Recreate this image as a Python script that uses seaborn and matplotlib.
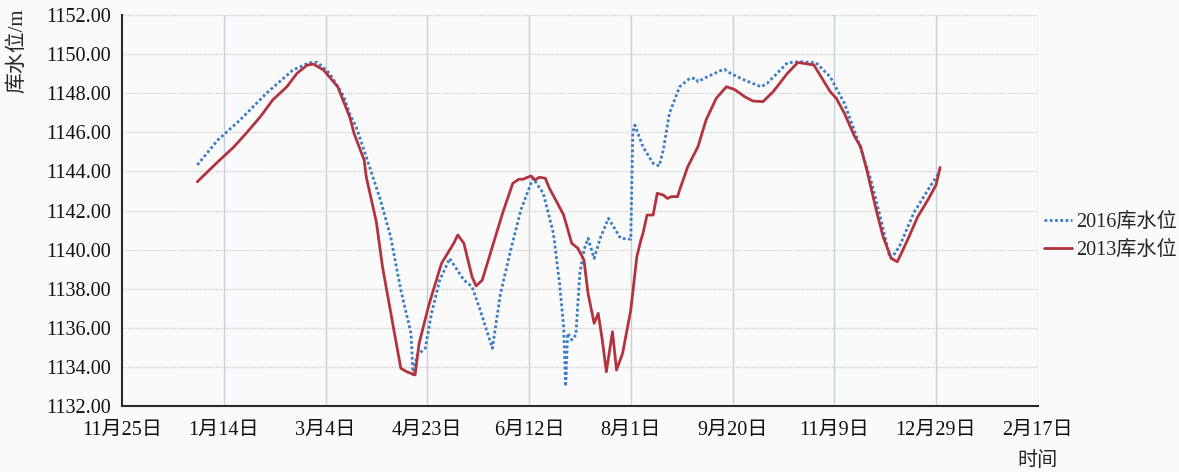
import matplotlib
matplotlib.use("Agg")
import matplotlib.pyplot as plt
import numpy as np
import pandas as pd
import seaborn as sns

# Reservoir water level (m) by day of year
doy_2016 = [1, 11, 22, 35, 48, 56, 60, 66, 73, 76, 79, 84, 91, 96, 101, 106, 107,
            109, 113, 116, 120, 125, 132, 136, 140, 146, 150, 155, 160, 165, 166,
            171, 176, 179, 181, 182, 183, 185, 187, 189, 191, 193, 196, 199, 203,
            209, 214, 215, 216, 220, 225, 228, 230, 233, 238, 243, 246, 247, 251,
            258, 260, 263, 269, 278, 281, 291, 297, 305, 312, 319, 325, 332, 337,
            341, 342, 346, 353, 360, 365]
level_2016 = [1144.33, 1145.60, 1146.63, 1148.00, 1149.19, 1149.56, 1149.58, 1149.02,
              1147.82, 1146.90, 1146.29, 1144.75, 1142.54, 1140.66, 1137.93, 1135.72,
              1133.60, 1134.60, 1134.95, 1136.70, 1138.40, 1139.55, 1138.44, 1138.10,
              1136.91, 1134.95, 1137.76, 1139.98, 1142.03, 1143.40, 1143.65, 1142.88,
              1140.83, 1138.28, 1136.06, 1133.00, 1135.72, 1135.38, 1135.63, 1138.79,
              1139.98, 1140.58, 1139.55, 1140.58, 1141.60, 1140.58, 1140.53, 1146.00,
              1146.37, 1145.26, 1144.41, 1144.28, 1145.10, 1146.97, 1148.33, 1148.76,
              1148.76, 1148.59, 1148.81, 1149.15, 1149.22, 1149.02, 1148.71, 1148.33,
              1148.50, 1149.56, 1149.61, 1149.56, 1148.84, 1147.48, 1145.78, 1143.56,
              1141.51, 1139.72, 1139.55, 1140.15, 1141.86, 1143.05, 1143.85]

doy_2013 = [1, 6, 12, 19, 25, 32, 38, 45, 50, 55, 58, 63, 70, 76, 78, 83, 84, 89, 92,
            97, 101, 104, 108, 110, 115, 121, 127, 129, 132, 136, 138, 141, 146, 151,
            156, 159, 161, 165, 167, 169, 172, 174, 178, 181, 185, 188, 191, 193, 196,
            198, 200, 202, 205, 207, 210, 214, 217, 219, 220, 222, 225, 227, 230, 232,
            234, 237, 238, 242, 247, 251, 256, 261, 265, 270, 274, 279, 284, 291, 296,
            297, 304, 307, 312, 315, 319, 324, 327, 330, 335, 338, 342, 345, 350, 355,
            360, 364, 366]
level_2013 = [1143.47, 1143.98, 1144.58, 1145.26, 1145.95, 1146.80, 1147.65, 1148.33,
              1149.02, 1149.44, 1149.49, 1149.19, 1148.33, 1146.75, 1145.95, 1144.58,
              1143.73, 1141.40, 1139.12, 1136.23, 1133.93, 1133.75, 1133.59, 1135.21,
              1137.25, 1139.30, 1140.32, 1140.75, 1140.32, 1138.61, 1138.14, 1138.44,
              1140.15, 1141.86, 1143.39, 1143.60, 1143.60, 1143.77, 1143.56, 1143.70,
              1143.65, 1143.14, 1142.37, 1141.77, 1140.32, 1140.07, 1139.47, 1137.76,
              1136.23, 1136.74, 1135.38, 1133.75, 1135.80, 1133.84, 1134.70, 1136.91,
              1139.64, 1140.50, 1140.83, 1141.77, 1141.77, 1142.88, 1142.79, 1142.62,
              1142.71, 1142.71, 1143.05, 1144.24, 1145.26, 1146.63, 1147.74, 1148.33,
              1148.19, 1147.82, 1147.60, 1147.57, 1148.08, 1149.02, 1149.56, 1149.56,
              1149.44, 1148.93, 1148.08, 1147.74, 1146.97, 1145.78, 1145.26, 1144.07,
              1141.86, 1140.66, 1139.55, 1139.38, 1140.49, 1141.68, 1142.54, 1143.30,
              1144.20]

series_names = ["2016库水位", "2013库水位"]
tick_labels = ["11月25日", "1月14日", "3月4日", "4月23日", "6月12日",
               "8月1日", "9月20日", "11月9日", "12月29日", "2月17日"]
y_ticks = [1132, 1134, 1136, 1138, 1140, 1142, 1144, 1146, 1148, 1150, 1152]

base = pd.Timestamp("2016-01-01")
frames = []
for name, doy, lvl in [(series_names[0], doy_2016, level_2016),
                       (series_names[1], doy_2013, level_2013)]:
    frames.append(pd.DataFrame({
        "date": base + pd.to_timedelta(np.array(doy) - 1, unit="D"),
        "level": lvl,
        "series": name,
    }))
df = pd.concat(frames, ignore_index=True)

sns.set_theme(style="white")
font_mix = ["Liberation Serif", "Noto Sans CJK SC"]
plt.rcParams["font.family"] = font_mix

bg = "#fafafa"
fig = plt.figure(figsize=(11.79, 4.72), dpi=100, facecolor=bg)
ax = fig.add_axes([0.1035, 0.1398, 0.7767, 0.8284])
ax.set_facecolor(bg)

palette = {series_names[0]: "#3b7cc4", series_names[1]: "#b2333f"}
dashes = {series_names[0]: (1, 0.9), series_names[1]: ""}
sns.lineplot(data=df, x="date", y="level", hue="series", style="series",
             hue_order=series_names, style_order=series_names,
             palette=palette, dashes=dashes, estimator=None, sort=False,
             linewidth=2.0, ax=ax)

tick_pos = pd.date_range("2015-11-25", periods=len(tick_labels), freq="50D")
ax.set_xlim(tick_pos[0], tick_pos[-1])
ax.set_xticks(tick_pos)
ax.set_xticklabels(tick_labels, fontsize=14.5)
ax.set_ylim(y_ticks[0], y_ticks[-1])
ax.set_yticks(y_ticks)
ax.set_yticklabels([f"{v:.2f}" for v in y_ticks], fontsize=14.5)
ax.tick_params(axis="x", length=0, pad=11, colors="#111111")
ax.tick_params(axis="y", length=0, pad=8, colors="#111111")
ax.set_xlabel("")
ax.set_ylabel("")

ax.grid(False)
for v in y_ticks[1:]:
    ax.axhline(v, color="#c8c8c8", lw=0.9, ls=(0, (1, 1.2)), zorder=0)
for t in tick_pos[1:]:
    ax.axvline(t, color="#c7d0d9", lw=1.0, zorder=0)

for side in ["top", "right"]:
    ax.spines[side].set_visible(False)
for side in ["left", "bottom"]:
    ax.spines[side].set_color("#2a2a2a")
    ax.spines[side].set_linewidth(1.5)

leg = ax.legend(loc="upper left", bbox_to_anchor=(0.8855, 0.549),
                bbox_transform=fig.transFigure, frameon=False, fontsize=14.5,
                handlelength=1.4, handletextpad=0.2, labelspacing=0.45,
                borderpad=0, borderaxespad=0)
for line in leg.get_lines():
    line.set_linewidth(2.0)

fig.text(0.0145, 0.892, "库水位/m", rotation=90, ha="center", va="center",
         fontsize=15, family=font_mix)
fig.text(0.880, 0.022, "时间", ha="center", va="center", fontsize=14.5,
         family=font_mix)

fig.savefig("out.png", dpi=100, facecolor=bg)
